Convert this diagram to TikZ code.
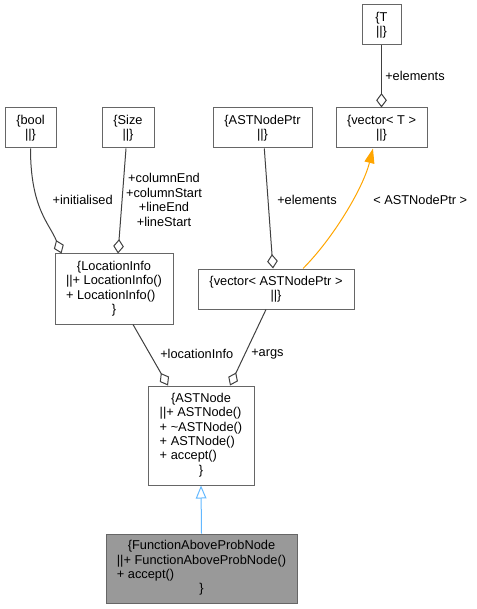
\documentclass[tikz,border=0pt]{standalone}
\usepackage{fontspec}
\setmainfont{Liberation Sans}
\usetikzlibrary{arrows.meta}
\definecolor{boxgray}{HTML}{666666}
\definecolor{edgegray}{HTML}{404040}
\definecolor{tmplorange}{HTML}{FFA500}
\definecolor{basesteel}{HTML}{63B8FF}
\definecolor{curfill}{HTML}{999999}
\newcommand{\mcline}[1]{\multicolumn{1}{@{}c@{}}{#1}}

\begin{document}
\begin{tikzpicture}[x=0.75pt, y=-0.75pt,
		cls/.style={draw=boxgray, line width=0.75pt, fill=white, inner sep=0pt, align=center, font=\fontsize{9.6}{10.8}\selectfont},
		sz/.style 2 args={minimum width=#1*0.75pt, minimum height=#2*0.75pt},
		aggr/.style={draw=edgegray, line width=0.75pt, {Diamond[open, length=10.8pt, width=8pt]}-},
		tmplarrow/.style={draw=tmplorange, line width=0.75pt, -{Triangle[length=11pt, width=7.5pt]}},
		basearrow/.style={draw=basesteel, line width=0.75pt, {Triangle[open, length=9.75pt, width=8pt]}-},
		lbl/.style={inner sep=0pt, font=\fontsize{9.6}{10.8}\selectfont}]
		\useasboundingbox (0, 0) rectangle (476, 609);

		\node[cls, sz={39}{40}] (T) at (381.5, 25) {\{T\\||\}};
		\node[cls, sz={51}{40}] (bool) at (30.5, 128) {\{bool\\||\}};
		\node[cls, sz={52}{40}] (Size) at (128, 128) {\{Size\\||\}};
		\node[cls, sz={99}{40}] (ASTNodePtr) at (262.5, 128) {\{ASTNodePtr\\||\}};
		\node[cls, sz={91}{40}] (vectorT) at (381.5, 128) {\{vector< T >\\||\}};
		\node[cls, sz={118}{70}] (LocationInfo) at (114, 289) {\begin{tabular}{@{}l@{}}\mcline{\{LocationInfo}\\||+ LocationInfo()\\+ LocationInfo()\\\mcline{\}}\end{tabular}};
		\node[cls, sz={156}{40}] (vectorPtr) at (276, 289) {\{vector< ASTNodePtr >\\||\}};
		\node[cls, sz={106}{99}] (ASTNode) at (201, 435.5) {\begin{tabular}{@{}l@{}}\mcline{\{ASTNode}\\||+ ASTNode()\\+ \textasciitilde ASTNode()\\+ ASTNode()\\+ accept()\\\mcline{\}}\end{tabular}};
		\node[cls, fill=curfill, sz={191}{69}] (FAPN) at (201.5, 568.5) {\begin{tabular}{@{}l@{}}\mcline{\{FunctionAboveProbNode}\\||+ FunctionAboveProbNode()\\+ accept()\\\mcline{\}}\end{tabular}};

		\draw[aggr] (vectorT.north) -- (T.south);
		\draw[aggr] ([xshift=5.25pt]LocationInfo.north west) .. controls +(-12, -30) and +(0, 60) .. (bool.south);
		\draw[aggr] ([xshift=3pt]LocationInfo.north) -- ([xshift=-1.5pt]Size.south);
		\draw[aggr] ([xshift=-2.25pt]vectorPtr.north) -- ([xshift=1.35pt]ASTNodePtr.south);
		\draw[tmplarrow] ([xshift=20.25pt]vectorPtr.north) .. controls +(30, -30) and +(-10, 40) .. ([xshift=-6.4pt]vectorT.south);
		\draw[aggr] ([xshift=-24.75pt]ASTNode.north) -- ([xshift=14.25pt]LocationInfo.south);
		\draw[aggr] ([xshift=21.75pt]ASTNode.north) -- ([xshift=-7.5pt]vectorPtr.south);
		\draw[basearrow] (ASTNode.south) -- (FAPN.north);

		\node[lbl, anchor=west] (elemT) at (385, 76) {+elements};
		\node[lbl, anchor=east] (initialised) at (113, 200) {+initialised};
		\node[lbl, align=center] (sizeMembers) at (164, 200) {+columnEnd\\+columnStart\\+lineEnd\\+lineStart};
		\node[lbl, anchor=west] (elemPtr) at (277, 200) {+elements};
		\node[lbl, anchor=west] (tmplArg) at (373, 200) {< ASTNodePtr >};
		\node[lbl, anchor=west] (locInfo) at (160, 354) {+locationInfo};
		\node[lbl, anchor=west] (args) at (251, 354) {+args};
	\end{tikzpicture}
\end{document}
